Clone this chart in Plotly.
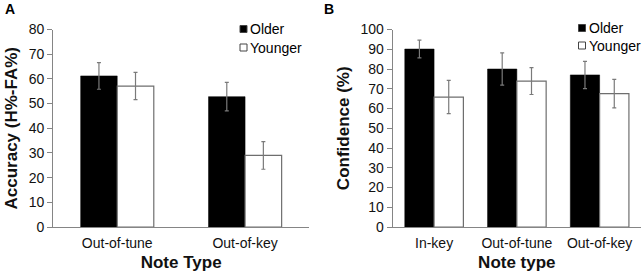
import plotly.graph_objects as go
from plotly.subplots import make_subplots

# Panel A data
cats_a = ["Out-of-tune", "Out-of-key"]
older_a = [61.2, 52.8]
older_a_err = [5.4, 5.8]
younger_a = [57.1, 29.0]
younger_a_err = [5.5, 5.6]

# Panel B data
cats_b = ["In-key", "Out-of-tune", "Out-of-key"]
older_b = [90.1, 80.0, 77.0]
older_b_err = [4.5, 8.2, 6.9]
younger_b = [65.8, 73.9, 67.5]
younger_b_err = [8.4, 6.8, 7.2]

yticks_a = [0, 10, 20, 30, 40, 50, 60, 70, 80]
yticks_b = [0, 10, 20, 30, 40, 50, 60, 70, 80, 90, 100]

series_names = ["Older", "Younger"]

FONT = "Liberation Sans, Arial, sans-serif"
GRAY = "#858585"
EB = "#7a7a7a"
W, H = 644, 274

fig = make_subplots(rows=1, cols=2)

wa = 0.286
wb = 0.354

def add_pair(cats, older, oerr, younger, yerr, w, col):
    fig.add_trace(go.Bar(
        x=cats, y=older, name=series_names[0], width=w, offset=-w,
        marker=dict(color="black", line=dict(color="black", width=0.5)),
        error_y=dict(type="data", array=oerr, color=EB, thickness=1.2, width=2),
        showlegend=False), row=1, col=col)
    fig.add_trace(go.Bar(
        x=cats, y=younger, name=series_names[1], width=w, offset=0,
        marker=dict(color="white", line=dict(color="#6e6e6e", width=1.2)),
        error_y=dict(type="data", array=yerr, color=EB, thickness=1.2, width=2),
        showlegend=False), row=1, col=col)

add_pair(cats_a, older_a, older_a_err, younger_a, younger_a_err, wa, 1)
add_pair(cats_b, older_b, older_b_err, younger_b, younger_b_err, wb, 2)

ytop = 1 - 29.5 / H
ybot = 1 - 227 / H

axis_common = dict(showline=True, linecolor=GRAY, linewidth=1.2,
                   showgrid=False, zeroline=False, automargin=False,
                   tickfont=dict(family=FONT, size=14, color="#111"))

xtick_style = dict(ticks="outside", ticklen=3, tickcolor="rgba(0,0,0,0)")

fig.update_layout(
    width=W, height=H,
    margin=dict(l=0, r=0, t=0, b=0),
    paper_bgcolor="white", plot_bgcolor="white",
    barmode="overlay",
    showlegend=False,
    font=dict(family=FONT, color="#111"),
    xaxis=dict(domain=[53.3 / W, 309 / W], **xtick_style, **axis_common),
    xaxis2=dict(domain=[392.7 / W, 641 / W], **xtick_style, **axis_common),
    yaxis=dict(domain=[ybot, ytop], range=[0, 80], tickvals=yticks_a,
               ticks="outside", ticklen=5, tickcolor=GRAY, **axis_common),
    yaxis2=dict(domain=[ybot, ytop], range=[0, 100], tickvals=yticks_b,
                ticks="outside", ticklen=5, tickcolor=GRAY, **axis_common),
)

tfont = dict(family=FONT, size=17, color="#111")
fig.update_xaxes(title=dict(text="<b>Note Type</b>", font=tfont, standoff=6), row=1, col=1)
fig.update_xaxes(title=dict(text="<b>Note type</b>", font=tfont, standoff=6), row=1, col=2)
fig.update_yaxes(title=dict(text="<b>Accuracy (H%-FA%)</b>", font=tfont, standoff=6), row=1, col=1)
fig.update_yaxes(title=dict(text="<b>Confidence (%)</b>", font=tfont, standoff=6), row=1, col=2)

# Panel letters
for letter, x in (("A", 3), ("B", 322)):
    fig.add_annotation(text="<b>%s</b>" % letter, x=x / W, y=1 - 9 / H, xref="paper", yref="paper",
                       xanchor="left", yanchor="middle", showarrow=False,
                       font=dict(family=FONT, size=14, color="black"))

# Legends: square swatches + text
def legend(xs, y_older, y_younger):
    s = 7
    for yc, fill, name in ((y_older, "black", series_names[0]), (y_younger, "white", series_names[1])):
        fig.add_shape(type="rect", xref="paper", yref="paper",
                      x0=xs / W, x1=(xs + s) / W,
                      y0=1 - (yc + s / 2) / H, y1=1 - (yc - s / 2) / H,
                      fillcolor=fill, line=dict(color="#444", width=1))
        fig.add_annotation(text=name, x=(xs + s + 1) / W, y=1 - yc / H, xref="paper", yref="paper",
                           xanchor="left", yanchor="middle", showarrow=False,
                           font=dict(family=FONT, size=14, color="black"))

legend(240, 29, 47.5)
legend(578.5, 28, 45.5)

# remove the browser's default 8px body margin so the figure sits at the page origin
fig.write_html("out.html", config={"displayModeBar": False},
               post_script="document.body.style.margin='0';")
